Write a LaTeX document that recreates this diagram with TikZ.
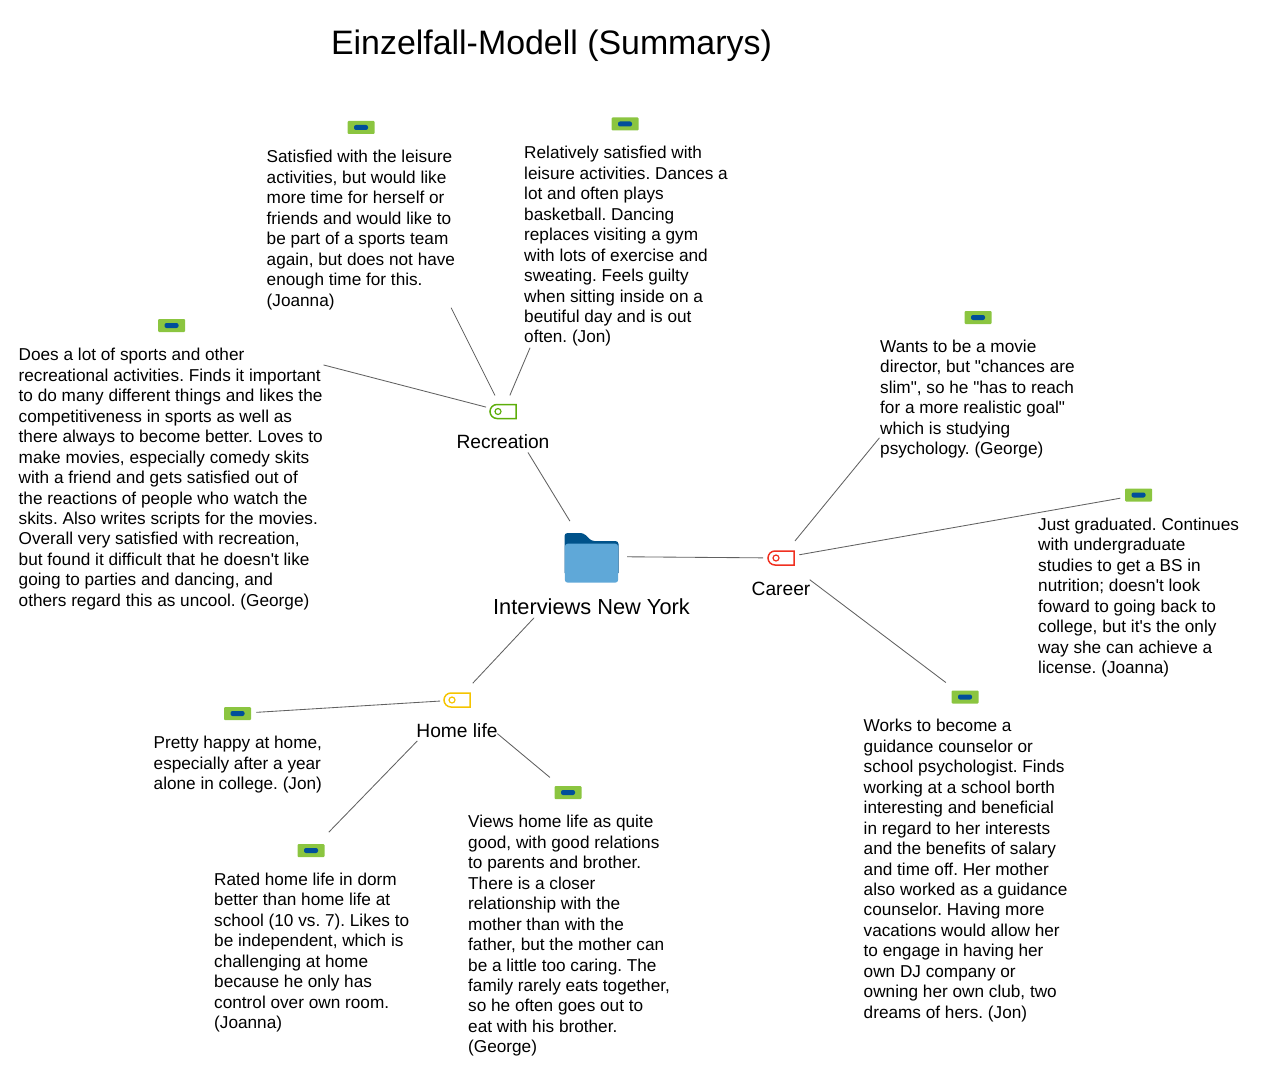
\documentclass[tikz,border=0pt]{standalone}
\usepackage{fontspec}
\setmainfont{Liberation Sans}[Ligatures=TeXOff]
\usetikzlibrary{shapes.misc}
\frenchspacing
\definecolor{notegreen}{HTML}{8BC540}
\definecolor{noteblue}{HTML}{004F9A}
\definecolor{foldertop}{HTML}{00528A}
\definecolor{folderbody}{HTML}{5FA8D8}
\definecolor{tagred}{HTML}{F03020}
\definecolor{taggreen}{HTML}{5DAE0A}
\definecolor{tagyellow}{HTML}{F5C400}
\tikzset{
    note/.style={rectangle,rounded corners=1pt,fill=notegreen,minimum width=27pt,minimum height=13pt,inner sep=0,
        path picture={\fill[noteblue,rounded corners=2pt] (path picture bounding box.center) ++(-7pt,-2.5pt) rectangle ++(14pt,5pt);}},
    tag/.style={rounded rectangle,rounded rectangle right arc=none,draw=#1,line width=1.5pt,minimum width=26pt,minimum height=14pt,inner sep=0,
        path picture={\draw[#1,line width=1.2pt] (path picture bounding box.west) ++(8pt,0) circle (3pt);}},
    folder/.style={rectangle,minimum width=54pt,minimum height=53pt,inner sep=0,
        path picture={
            \fill[foldertop,rounded corners=3pt] (path picture bounding box.south west) ++(0,10pt) |- ++(19pt,40pt) -- ++(8pt,-8pt) -| ++(27pt,-32pt);
            \fill[folderbody,rounded corners=3pt] (path picture bounding box.south west) ++(0.3pt,0.3pt) rectangle ++(53.4pt,39pt);
        }},
    memo/.style={anchor=north west,inner sep=0,align=left,font=\fontsize{17.2}{20.48}\selectfont},
    topic/.style={inner sep=0,font=\fontsize{19.2}{23}\selectfont},
    link/.style={draw=black!62,line width=0.85pt}
}
\begin{document}
\begin{tikzpicture}[x=1pt,y=-1pt]
    \useasboundingbox (0,0) rectangle (1276,1086);
    \node[inner sep=0,font=\fontsize{33.9}{40}\selectfont] (title) at (551.5,46) {Einzelfall-Modell (Summarys)};

    % central folder
    \node[folder] (root) at (591.5,556.5) {};
    \node[topic,font=\fontsize{21.8}{26}\selectfont] (rootlabel) at (591.5,607) {Interviews New York};

    % topics
    \node[tag=taggreen] (recreation) at (503,411.5) {};
    \node[topic] (recreationlabel) at (503,442) {Recreation};
    \node[tag=tagred] (career) at (781,558) {};
    \node[topic] (careerlabel) at (781,589) {Career};
    \node[tag=tagyellow] (home) at (457,700) {};
    \node[topic] (homelabel) at (457,731) {Home life};

    % recreation memos
    \node[note] (recjoanna) at (361,127.5) {};
    \node[memo] at (266.5,150) {Satisfied with the leisure\\activities, but would like\\more time for herself or\\friends and would like to\\be part of a sports team\\again, but does not have\\enough time for this.\\(Joanna)};
    \node[note] (recjon) at (625,124) {};
    \node[memo] at (524,146) {Relatively satisfied with\\leisure activities. Dances a\\lot and often plays\\basketball. Dancing\\replaces visiting a gym\\with lots of exercise and\\sweating. Feels guilty\\when sitting inside on a\\beutiful day and is out\\often. (Jon)};
    \node[note] (recgeorge) at (171.5,325.5) {};
    \node[memo] at (18.5,348) {Does a lot of sports and other\\recreational activities. Finds it important\\to do many different things and likes the\\competitiveness in sports as well as\\there always to become better. Loves to\\make movies, especially comedy skits\\with a friend and gets satisfied out of\\the reactions of people who watch the\\skits. Also writes scripts for the movies.\\Overall very satisfied with recreation,\\but found it difficult that he doesn't like\\going to parties and dancing, and\\others regard this as uncool. (George)};

    % career memos
    \node[note] (cargeorge) at (978,317.5) {};
    \node[memo] at (880,339.5) {Wants to be a movie\\director, but "chances are\\slim", so he "has to reach\\for a more realistic goal"\\which is studying\\psychology. (George)};
    \node[note] (carjoanna) at (1138.5,495) {};
    \node[memo] at (1038,517.5) {Just graduated. Continues\\with undergraduate\\studies to get a BS in\\nutrition; doesn't look\\foward to going back to\\college, but it's the only\\way she can achieve a\\license. (Joanna)};
    \node[note] (carjon) at (965,697) {};
    \node[memo] at (863.5,719) {Works to become a\\guidance counselor or\\school psychologist. Finds\\working at a school borth\\interesting and beneficial\\in regard to her interests\\and the benefits of salary\\and time off. Her mother\\also worked as a guidance\\counselor. Having more\\vacations would allow her\\to engage in having her\\own DJ company or\\owning her own club, two\\dreams of hers. (Jon)};

    % home life memos
    \node[note] (homejon) at (237.5,713.5) {};
    \node[memo] at (153.5,736) {Pretty happy at home,\\especially after a year\\alone in college. (Jon)};
    \node[note] (homejoanna) at (311,850.5) {};
    \node[memo] at (214,872.5) {Rated home life in dorm\\better than home life at\\school (10 vs. 7). Likes to\\be independent, which is\\challenging at home\\because he only has\\control over own room.\\(Joanna)};
    \node[note] (homegeorge) at (568,792.5) {};
    \node[memo] at (468,815) {Views home life as quite\\good, with good relations\\to parents and brother.\\There is a closer\\relationship with the\\mother than with the\\father, but the mother can\\be a little too caring. The\\family rarely eats together,\\so he often goes out to\\eat with his brother.\\(George)};

    % connectors
    \draw[link,shorten <=41.5pt,shorten >=48pt] (root.center) -- (recreation.center);
    \draw[link,shorten <=35.5pt,shorten >=18pt] (root.center) -- (career.center);
    \draw[link,shorten <=84pt,shorten >=23pt] (root.center) -- (home.center);
    \draw[link,shorten <=18pt,shorten >=201.5pt] (recreation.center) -- (recjoanna.center);
    \draw[link,shorten <=17.5pt,shorten >=243pt] (recreation.center) -- (recjon.center);
    \draw[link,shorten <=17.5pt,shorten >=157pt] (recreation.center) -- (recgeorge.center);
    \draw[link,shorten <=22pt,shorten >=155.5pt] (career.center) -- (cargeorge.center);
    \draw[link,shorten <=18.5pt,shorten >=18.5pt] (career.center) -- (carjoanna.center);
    \draw[link,shorten <=36pt,shorten >=24pt] (career.center) -- (carjon.center);
    \draw[link,shorten <=17pt,shorten >=19pt] (home.center) -- (homejon.center);
    \draw[link,shorten <=57pt,shorten >=25.5pt] (home.center) -- (homejoanna.center);
    \draw[link,shorten <=52.5pt,shorten >=23.5pt] (home.center) -- (homegeorge.center);
\end{tikzpicture}
\end{document}
